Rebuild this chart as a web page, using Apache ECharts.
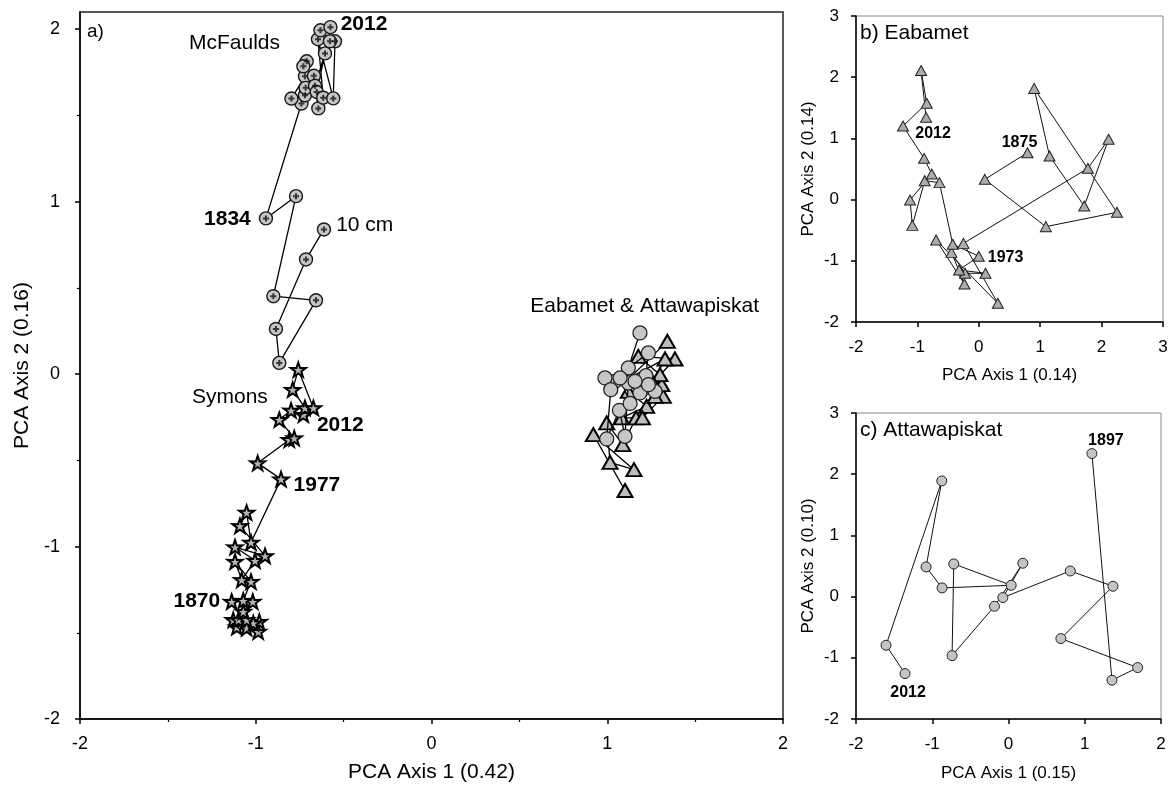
<!DOCTYPE html>
<html>
<head>
<meta charset="utf-8">
<script src="https://cdn.jsdelivr.net/npm/echarts@6/dist/echarts.min.js"></script>
<style>
  html, body { margin: 0; padding: 0; background: #fff; }
  #chart { width: 1175px; height: 792px; }
</style>
</head>
<body>
<div id="chart"></div>
<script>
// ---------- PCA scores (Axis 1, Axis 2), ordered oldest -> newest ----------

// a) combined ordination
const mcfaulds = [
  [-0.612, 0.839], [-0.714, 0.665], [-0.885, 0.262], [-0.866, 0.065], [-0.657, 0.428],
  [-0.900, 0.452], [-0.771, 1.032], [-0.942, 0.903],
  [-0.740, 1.569], [-0.797, 1.598], [-0.720, 1.727], [-0.710, 1.814], [-0.729, 1.785],
  [-0.720, 1.617], [-0.716, 1.660], [-0.669, 1.730], [-0.644, 1.541], [-0.663, 1.672],
  [-0.606, 1.860], [-0.653, 1.636], [-0.616, 1.603], [-0.646, 1.942], [-0.559, 1.599],
  [-0.549, 1.930], [-0.578, 1.930], [-0.632, 1.994], [-0.575, 2.012]
];
const mcfauldsNotes = { 0: '10 cm', 7: '1834', 26: '2012' };

const symons = [
  [-0.986, -1.493], [-1.052, -1.473], [-1.108, -1.468], [-0.980, -1.435], [-1.128, -1.425],
  [-1.014, -1.444], [-1.099, -1.425], [-1.052, -1.425], [-1.071, -1.377], [-1.017, -1.319],
  [-1.137, -1.319], [-1.071, -1.313], [-1.027, -1.203], [-1.118, -1.087], [-1.080, -1.193],
  [-1.004, -1.081], [-1.118, -1.003], [-0.947, -1.054], [-1.090, -0.880], [-1.052, -0.802],
  [-1.027, -0.976], [-0.856, -0.609], [-0.989, -0.516], [-0.809, -0.380], [-0.781, -0.371],
  [-0.866, -0.264], [-0.799, -0.210], [-0.729, -0.235], [-0.720, -0.196], [-0.790, -0.090],
  [-0.758, 0.026], [-0.672, -0.196]
];
const symonsNotes = { 10: '1870', 21: '1977', 31: '2012' };

const eabametMain = [
  [1.101, -0.675], [0.921, -0.351], [1.152, -0.554], [1.016, -0.512], [0.997, -0.283],
  [1.088, -0.409], [1.164, -0.254], [1.082, -0.254], [1.224, -0.187], [1.120, -0.100],
  [1.319, -0.129], [1.200, -0.254], [1.310, -0.061], [1.272, -0.129], [1.300, -0.003],
  [1.177, 0.103], [1.385, 0.088], [1.260, -0.050], [1.329, 0.088], [1.130, -0.020],
  [1.342, 0.190]
];
const attawapiskatMain = [
  [1.186, 0.239], [1.120, 0.036], [1.234, 0.123], [1.220, -0.009], [1.044, -0.042],
  [0.987, -0.022], [1.020, -0.090], [0.997, -0.376], [1.069, -0.210], [1.101, -0.361],
  [1.120, -0.051], [1.186, -0.109], [1.272, -0.100], [1.234, -0.061], [1.158, -0.042],
  [1.073, -0.022], [1.130, -0.170]
];

// b) Eabamet
const eabamet = [
  [0.793, 0.766], [0.098, 0.331], [1.092, -0.442], [2.250, -0.208], [0.902, 1.817],
  [1.152, 0.712], [1.717, -0.105], [2.114, 0.985], [1.777, 0.511], [-0.250, -0.715],
  [0.310, -1.694], [-0.696, -0.660], [-0.234, -1.378], [-0.446, -0.862], [-0.223, -1.204],
  [0.109, -1.204], [-0.321, -1.150], [0.000, -0.925], [-0.424, -0.731], [-0.641, 0.277],
  [-0.880, 0.309], [-1.082, -0.421], [-1.120, -0.007], [-0.766, 0.418], [-0.891, 0.674],
  [-1.234, 1.203], [-0.848, 1.573], [-0.940, 2.110], [-0.859, 1.344]
];
const eabametNotes = { 0: '1875', 17: '1973', 28: '2012' };

// c) Attawapiskat
const attawapiskat = [
  [1.094, 2.337], [1.357, -1.367], [1.694, -1.160], [0.687, -0.686], [1.370, 0.169],
  [0.810, 0.419], [-0.074, -0.016], [0.188, 0.545], [-0.184, -0.158], [-0.740, -0.964],
  [-0.718, 0.534], [0.035, 0.185], [-0.871, 0.142], [-1.081, 0.485], [-0.875, 1.890],
  [-1.606, -0.795], [-1.357, -1.258]
];
const attawapiskatNotes = { 0: '1897', 16: '2012' };

// axis tick values
const mainTicks = [-2, -1, 0, 1, 2];
const mainMinorTicks = [-1.5, -0.5, 0.5, 1.5];

// ---------- styling ----------
const FONT = '"Liberation Sans", Arial, Helvetica, sans-serif';
const STAR = 'path://M50,0 L61.8,35.1 L97.6,34.5 L69,56.2 L79.4,90.5 L50,70 L20.6,90.5 L31,56.2 L2.4,34.5 L38.2,35.1 Z';
const PLUS = 'path://M2,0 H4 V2 H6 V4 H4 V6 H2 V4 H0 V2 H2 Z';

// label placement for the annotated samples
const notePlacement = {
  mcfaulds: {
    0: { position: 'right', distance: 5, offset: [0, -4] },
    7: { position: 'left', distance: 8, offset: [0, 1] },
    26: { position: 'right', distance: 3, offset: [0, -3] }
  },
  symons: {
    10: { position: 'left', distance: 3, offset: [0, 0] },
    21: { position: 'right', distance: 4, offset: [0, 6] },
    31: { position: 'right', distance: 4, offset: [-9, 17] }
  },
  eabamet: {
    0: { position: 'top', distance: 3, offset: [-8, 6] },
    17: { position: 'right', distance: 3, offset: [0, 1] },
    28: { position: 'bottom', distance: 3, offset: [7, 0] }
  },
  attawapiskat: {
    0: { position: 'top', distance: 3, offset: [14, 4] },
    16: { position: 'bottom', distance: 4, offset: [3, 2] }
  }
};

function annotate(points, notes, place, fontSize) {
  return points.map(function (p, i) {
    if (notes[i] === undefined) return p;
    return {
      value: p,
      label: Object.assign({
        show: true,
        formatter: notes[i],
        color: '#000',
        fontFamily: FONT,
        fontSize: fontSize,
        fontWeight: notes[i] === '10 cm' ? 'normal' : 'bold'
      }, place[i])
    };
  });
}

function valueAxis(gridIndex, min, max, opts) {
  return Object.assign({
    type: 'value', gridIndex: gridIndex, min: min, max: max, interval: 1,
    splitLine: { show: false },
    axisLine: { show: true, onZero: false, lineStyle: { color: '#000', width: 1.5 } },
    axisTick: { show: true, inside: false, length: 5, lineStyle: { color: '#000', width: 1.5 } },
    axisLabel: { color: '#000', fontFamily: FONT, fontSize: 17, margin: 17 },
    nameLocation: 'middle',
    nameTextStyle: { color: '#000', fontFamily: FONT, fontSize: 17 }
  }, opts || {});
}

const lineBase = {
  type: 'line', animation: false, silent: true, z: 3,
  emphasis: { disabled: true },
  clip: false
};

const option = {
  backgroundColor: '#fff',
  animation: false,
  grid: [
    { left: 80, top: 12, width: 703, height: 707, show: true, borderColor: '#222', borderWidth: 1.5, backgroundColor: 'transparent' },
    { left: 856, top: 16, width: 307, height: 306, show: true, borderColor: '#8a8a8a', borderWidth: 1, backgroundColor: 'transparent' },
    { left: 856, top: 413, width: 305, height: 306, show: true, borderColor: '#8a8a8a', borderWidth: 1, backgroundColor: 'transparent' }
  ],
  xAxis: [
    valueAxis(0, -2, 2, {
      name: 'PCA Axis 1 (0.42)', nameGap: 43,
      nameTextStyle: { color: '#000', fontFamily: FONT, fontSize: 21 },
      minorTick: { show: true, splitNumber: 2, length: 3, lineStyle: { color: '#000', width: 1.2 } },
      axisLabel: { color: '#000', fontFamily: FONT, fontSize: 18, margin: 16 }
    }),
    valueAxis(1, -2, 3, { name: 'PCA Axis 1 (0.14)', nameGap: 45 }),
    valueAxis(2, -2, 2, { name: 'PCA Axis 1 (0.15)', nameGap: 46 })
  ],
  yAxis: [
    valueAxis(0, -2, 2.1, {
      name: 'PCA Axis 2 (0.16)', nameGap: 46, position: 'left',
      nameTextStyle: { color: '#000', fontFamily: FONT, fontSize: 21 },
      axisTick: { show: true, inside: false, length: 5, customValues: mainTicks, lineStyle: { color: '#000', width: 1.5 } },
      axisLabel: { color: '#000', fontFamily: FONT, fontSize: 18, margin: 20, customValues: mainTicks }
    }),
    // half-unit minor ticks on the left edge of panel a
    valueAxis(0, -2, 2.1, {
      position: 'left',
      axisLine: { show: false, onZero: false },
      axisTick: { show: true, inside: false, length: 3, customValues: mainMinorTicks, lineStyle: { color: '#000', width: 1.2 } },
      axisLabel: { show: false }
    }),
    valueAxis(1, -2, 3, { name: 'PCA Axis 2 (0.14)', nameGap: 39, axisLabel: { color: '#000', fontFamily: FONT, fontSize: 17, margin: 17 } }),
    valueAxis(2, -2, 3, { name: 'PCA Axis 2 (0.10)', nameGap: 39, axisLabel: { color: '#000', fontFamily: FONT, fontSize: 17, margin: 17 } })
  ],
  graphic: [
    { type: 'text', x: 87, y: 32, style: { text: 'a)', font: '19px ' + FONT, fill: '#000', verticalAlign: 'middle' } },
    { type: 'text', x: 189, y: 43, style: { text: 'McFaulds', font: '21px ' + FONT, fill: '#000', verticalAlign: 'middle' } },
    { type: 'text', x: 192, y: 397, style: { text: 'Symons', font: '21px ' + FONT, fill: '#000', verticalAlign: 'middle' } },
    { type: 'text', x: 759, y: 306, style: { text: 'Eabamet & Attawapiskat', font: '21px ' + FONT, fill: '#000', align: 'right', verticalAlign: 'middle' } },
    { type: 'text', x: 860, y: 33, style: { text: 'b) Eabamet', font: '21px ' + FONT, fill: '#000', verticalAlign: 'middle' } },
    { type: 'text', x: 860, y: 430, style: { text: 'c) Attawapiskat', font: '21px ' + FONT, fill: '#000', verticalAlign: 'middle' } }
  ],
  series: [
    // a) McFaulds core: grey circles with a black cross
    Object.assign({}, lineBase, {
      xAxisIndex: 0, yAxisIndex: 0,
      data: annotate(mcfaulds, mcfauldsNotes, notePlacement.mcfaulds, 21),
      symbol: 'circle', symbolSize: 13,
      itemStyle: { color: '#c6c6c6', borderColor: '#1a1a1a', borderWidth: 1.4 },
      lineStyle: { color: '#000', width: 1.3 }
    }),
    {
      type: 'scatter', xAxisIndex: 0, yAxisIndex: 0, silent: true, animation: false, z: 4,
      data: mcfaulds, symbol: PLUS, symbolSize: 6,
      itemStyle: { color: '#111' }
    },
    // a) Symons core: stars
    Object.assign({}, lineBase, {
      xAxisIndex: 0, yAxisIndex: 0,
      data: annotate(symons, symonsNotes, notePlacement.symons, 21),
      symbol: STAR, symbolSize: 15, symbolKeepAspect: true,
      itemStyle: { color: '#b4b4b4', borderColor: '#000', borderWidth: 2 },
      lineStyle: { color: '#000', width: 1.3 }
    }),
    // a) Eabamet (triangles) and Attawapiskat (circles)
    Object.assign({}, lineBase, {
      xAxisIndex: 0, yAxisIndex: 0, data: eabametMain,
      symbol: 'triangle', symbolSize: [15, 13],
      itemStyle: { color: '#bdbdbd', borderColor: '#000', borderWidth: 2 },
      lineStyle: { color: '#000', width: 1.3 }
    }),
    Object.assign({}, lineBase, {
      xAxisIndex: 0, yAxisIndex: 0, data: attawapiskatMain, z: 4,
      symbol: 'circle', symbolSize: 14,
      itemStyle: { color: '#c6c6c6', borderColor: '#222', borderWidth: 1.3 },
      lineStyle: { color: '#000', width: 1.3 }
    }),
    // b) Eabamet
    Object.assign({}, lineBase, {
      xAxisIndex: 1, yAxisIndex: 2,
      data: annotate(eabamet, eabametNotes, notePlacement.eabamet, 16),
      symbol: 'triangle', symbolSize: [11, 10],
      itemStyle: { color: '#acacac', borderColor: '#222', borderWidth: 1 },
      lineStyle: { color: '#111', width: 1 }
    }),
    // c) Attawapiskat
    Object.assign({}, lineBase, {
      xAxisIndex: 2, yAxisIndex: 3,
      data: annotate(attawapiskat, attawapiskatNotes, notePlacement.attawapiskat, 16),
      symbol: 'circle', symbolSize: 10,
      itemStyle: { color: '#c4c4c4', borderColor: '#222', borderWidth: 1 },
      lineStyle: { color: '#111', width: 1 }
    })
  ]
};

const chart = echarts.init(document.getElementById('chart'), null, { renderer: 'canvas' });
chart.setOption(option);
</script>
</body>
</html>
